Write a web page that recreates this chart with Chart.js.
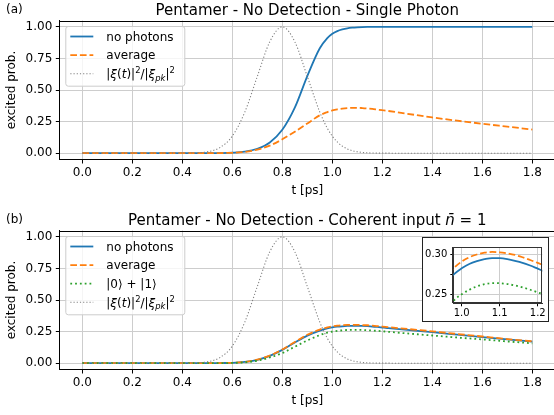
<!DOCTYPE html>
<html lang="en">
<head>
<meta charset="UTF-8">
<title>Pentamer - No Detection</title>
<script src="https://cdn.jsdelivr.net/npm/chart.js@4"></script>
<style>
  html, body { margin: 0; padding: 0; background: #fff; }
  #page { position: relative; width: 554px; height: 415px; overflow: hidden; background: #fff; }
  .panel { position: absolute; left: 0; width: 560px; height: 210px; }
  #panelA { top: 0; }
  #panelB { top: 210px; }
  #inset { position: absolute; left: 422px; top: 237px; width: 127px; height: 85px;
           box-sizing: border-box; border: 1px solid #222; background: #fff; }
  #inset canvas { position: absolute; left: 0; top: 0; }
</style>
</head>
<body>
<div id="page">
  <div class="panel" id="panelA"><canvas id="chartA" width="560" height="210"></canvas></div>
  <div class="panel" id="panelB"><canvas id="chartB" width="560" height="210"></canvas></div>
  <div id="inset"><canvas id="chartInset" width="125" height="83"></canvas></div>
</div>
<script>
// ---------------------------------------------------------------------------
// Data
// ---------------------------------------------------------------------------
const t = [0, 0.1, 0.2, 0.3, 0.4, 0.45, 0.5, 0.55, 0.6, 0.65, 0.7, 0.75, 0.8, 0.85, 0.9, 0.95,
           0.98, 1.0, 1.02, 1.04, 1.06, 1.08, 1.1, 1.12, 1.14, 1.16, 1.18, 1.2, 1.22,
           1.3, 1.4, 1.5, 1.6, 1.7, 1.8];

// normalised pulse |xi(t)|^2 / |xi_pk|^2 (same in both panels)
const pulse = [0, 0, 0, 0, 0.0003, 0.002, 0.011, 0.044, 0.135, 0.325, 0.607, 0.882, 1.0, 0.882, 0.607, 0.325,
               0.198, 0.135, 0.089, 0.056, 0.034, 0.020, 0.011, 0.006, 0.003, 0.0015, 0.0007, 0.0003, 0.0001,
               0, 0, 0, 0, 0, 0];

// (a) single photon
const noPhotonsA = [0, 0, 0, 0, 0, 0, 0, 0.001, 0.004, 0.012, 0.035, 0.085, 0.185, 0.36, 0.61, 0.83,
                    0.91, 0.945, 0.966, 0.979, 0.988, 0.993, 0.996, 0.998, 0.999, 0.9995, 1, 1, 1,
                    1, 1, 1, 1, 1, 1];
const averageA   = [0, 0, 0, 0, 0, 0, 0, 0.001, 0.003, 0.01, 0.028, 0.06, 0.11, 0.17, 0.235, 0.30,
                    0.325, 0.338, 0.347, 0.353, 0.357, 0.359, 0.359, 0.357, 0.354, 0.350, 0.345, 0.340, 0.335,
                    0.312, 0.283, 0.257, 0.233, 0.21, 0.187];

// (b) coherent input, n = 1
const noPhotonsB = [0, 0, 0, 0, 0, 0, 0, 0.001, 0.003, 0.01, 0.027, 0.058, 0.105, 0.163, 0.218, 0.258,
                    0.2755, 0.283, 0.2885, 0.292, 0.2945, 0.296, 0.2958, 0.2945, 0.2925, 0.29, 0.2865, 0.2825, 0.2785,
                    0.263, 0.245, 0.226, 0.207, 0.188, 0.17];
const averageB   = [0, 0, 0, 0, 0, 0, 0, 0.001, 0.003, 0.01, 0.028, 0.06, 0.108, 0.168, 0.225, 0.266,
                    0.2835, 0.2915, 0.297, 0.3005, 0.3028, 0.3037, 0.3033, 0.302, 0.3, 0.297, 0.2935, 0.2898, 0.286,
                    0.2708, 0.252, 0.231, 0.211, 0.191, 0.173];
const zeroOneB   = [0, 0, 0, 0, 0, 0, 0, 0.0005, 0.002, 0.007, 0.02, 0.045, 0.08, 0.13, 0.18, 0.222,
                    0.2424, 0.25, 0.2558, 0.26, 0.2628, 0.2642, 0.264, 0.263, 0.2612, 0.2588, 0.2558, 0.2525, 0.249,
                    0.2354, 0.219, 0.203, 0.188, 0.172, 0.157];

// ticks
const xTicks = [0.0, 0.2, 0.4, 0.6, 0.8, 1.0, 1.2, 1.4, 1.6, 1.8];
const yTicks = [0.0, 0.25, 0.5, 0.75, 1.0];
const insetXTicks = [1.0, 1.1, 1.2];
const insetYTicks = [0.25, 0.275, 0.30];
const insetYLabels = ['0.25', '', '0.30'];

// labels (rich text segments: it = italic, sup / sub)
const labelNoPhotons = [{ t: 'no photons' }];
const labelAverage = [{ t: 'average' }];
const labelZeroOne = [{ t: '|0\u27E9 + |1\u27E9' }];
const labelPulse = [{ t: '|' }, { t: '\u03BE', it: 1 }, { t: '(' }, { t: 't', it: 1 }, { t: ')|' }, { t: '2', sup: 1 },
                    { t: '/|' }, { t: '\u03BE', it: 1 }, { t: 'pk', it: 1, sub: 1 }, { t: '|' }, { t: '2', sup: 1 }];
const titleA = [{ t: 'Pentamer - No Detection - Single Photon' }];
const titleB = [{ t: 'Pentamer - No Detection - Coherent input ' }, { t: 'n\u0304', it: 1 }, { t: ' = 1' }];

// ---------------------------------------------------------------------------
// Style
// ---------------------------------------------------------------------------
const BLUE = '#1f77b4', ORANGE = '#ff7f0e', GREEN = '#2ca02c', GRAY = '#808080';
const FONT = '"DejaVu Sans", "Liberation Sans", sans-serif';
const GRID = '#cdcdcd';

Chart.defaults.font.family = FONT;
Chart.defaults.font.size = 12;
Chart.defaults.color = '#000';

const pts = ys => t.map((x, i) => ({ x, y: ys[i] }));
function lineDs(label, ys, color, width, dash, order) {
  return { label, data: pts(ys), borderColor: color, borderWidth: width, borderDash: dash,
           pointRadius: 0, fill: false, order, cubicInterpolationMode: 'monotone' };
}

function segFont(size, s) {
  const sz = (s.sub || s.sup) ? size * 0.7 : size;
  return (s.it ? 'italic ' : '') + sz + 'px ' + FONT;
}
function drawRich(ctx, segs, x, y, size, align) {
  let w = 0;
  segs.forEach(s => { ctx.font = segFont(size, s); w += ctx.measureText(s.t).width; });
  let cx = align === 'center' ? x - w / 2 : x;
  ctx.textAlign = 'left';
  ctx.textBaseline = 'alphabetic';
  segs.forEach(s => {
    ctx.font = segFont(size, s);
    const dy = s.sup ? -size * 0.42 : s.sub ? size * 0.22 : 0;
    ctx.fillText(s.t, cx, y + dy);
    cx += ctx.measureText(s.t).width;
  });
}

// top / right spines (left and bottom come from the axis borders)
const spines = {
  id: 'spines',
  afterDatasetsDraw(chart, args, opts) {
    const { ctx, chartArea: a } = chart;
    ctx.save();
    ctx.strokeStyle = opts.color || '#000';
    ctx.lineWidth = 1;
    ctx.beginPath();
    const l = Math.round(a.left) - 0.5, r = Math.round(a.right) - 0.5;
    const tp = Math.round(a.top) + 0.5, b = Math.round(a.bottom) - 0.5;
    ctx.moveTo(l, tp); ctx.lineTo(r, tp); ctx.lineTo(r, b);
    ctx.stroke();
    ctx.restore();
  }
};

const panelTitle = {
  id: 'panelTitle',
  afterDraw(chart, args, opts) {
    if (!opts.segs) return;
    const { ctx, chartArea: a } = chart;
    ctx.save();
    ctx.fillStyle = '#000';
    ctx.font = '12px ' + FONT;
    ctx.textAlign = 'left';
    ctx.textBaseline = 'alphabetic';
    ctx.fillText(opts.tag, 6, 13);
    drawRich(ctx, opts.segs, (a.left + a.right) / 2, 15, 15, 'center');
    ctx.restore();
  }
};

const boxLegend = {
  id: 'boxLegend',
  afterDraw(chart, args, opts) {
    if (!opts.items) return;
    const { ctx, chartArea: a } = chart;
    const x0 = a.left + 5.5, y0 = a.top + 5.5;
    const rowH = 18.6, w = 119;
    const h = 10.5 + rowH * (opts.items.length - 1) + 12;
    ctx.save();
    ctx.beginPath();
    ctx.roundRect(x0 + 0.5, y0 + 0.5, w, h, 2.5);
    ctx.fillStyle = 'rgba(255,255,255,0.8)';
    ctx.fill();
    ctx.strokeStyle = '#cccccc';
    ctx.lineWidth = 1;
    ctx.stroke();
    opts.items.forEach((it, i) => {
      const ds = chart.data.datasets[it.ds];
      const cy = y0 + 10.5 + i * rowH;
      ctx.beginPath();
      ctx.strokeStyle = ds.borderColor;
      ctx.lineWidth = ds.borderWidth;
      ctx.setLineDash(ds.borderDash || []);
      ctx.moveTo(x0 + 5, cy);
      ctx.lineTo(x0 + 28, cy);
      ctx.stroke();
      ctx.setLineDash([]);
      ctx.fillStyle = '#000';
      drawRich(ctx, it.segs, x0 + 41, cy + 4.3, 12, 'left');
    });
    ctx.restore();
  }
};

function mainChart(id, datasets, tag, title, legendItems) {
  return new Chart(document.getElementById(id), {
    type: 'line',
    data: { datasets },
    plugins: [spines, panelTitle, boxLegend],
    options: {
      responsive: false,
      animation: false,
      events: [],
      layout: { padding: { top: 20.5, right: 5.2, left: 0, bottom: 0 } },
      plugins: {
        legend: { display: false },
        tooltip: { enabled: false },
        spines: { color: '#000' },
        panelTitle: { tag, segs: title },
        boxLegend: { items: legendItems }
      },
      scales: {
        x: {
          type: 'linear', min: -0.09, max: 1.89,
          afterBuildTicks: s => { s.ticks = xTicks.map(v => ({ value: v })); },
          afterFit: s => { s.height = 50.5; },
          ticks: { callback: v => v.toFixed(1), padding: 2, maxRotation: 0, autoSkip: false },
          grid: { color: GRID, lineWidth: 1, tickLength: 4, tickColor: '#000' },
          border: { color: '#000', width: 1 },
          title: { display: true, text: 't [ps]', font: { size: 12 }, padding: { top: 0, bottom: 11.8 } }
        },
        y: {
          type: 'linear', min: -0.05, max: 1.05,
          afterBuildTicks: s => { s.ticks = yTicks.map(v => ({ value: v })); },
          afterFit: s => { s.width = 59.8; },
          ticks: { callback: v => v.toFixed(2), padding: 3.5, autoSkip: false },
          grid: { color: GRID, lineWidth: 1, tickLength: 4, tickColor: '#000' },
          border: { color: '#000', width: 1 },
          title: { display: true, text: 'excited prob.', font: { size: 12 }, padding: { top: 5, bottom: 0 } }
        }
      }
    }
  });
}

// (a)
mainChart('chartA', [
  lineDs('no photons', noPhotonsA, BLUE, 1.8, [], 4),
  lineDs('average', averageA, ORANGE, 1.8, [6.7, 2.9], 3),
  lineDs('pulse', pulse, GRAY, 1.1, [1.2, 2], 1)
], '(a)', titleA, [
  { ds: 0, segs: labelNoPhotons },
  { ds: 1, segs: labelAverage },
  { ds: 2, segs: labelPulse }
]);

// (b)
const datasetsB = () => [
  lineDs('no photons', noPhotonsB, BLUE, 1.8, [], 4),
  lineDs('average', averageB, ORANGE, 1.8, [6.7, 2.9], 3),
  lineDs('|0>+|1>', zeroOneB, GREEN, 1.8, [1.8, 3], 2),
  lineDs('pulse', pulse, GRAY, 1.1, [1.2, 2], 1)
];
mainChart('chartB', datasetsB(), '(b)', titleB, [
  { ds: 0, segs: labelNoPhotons },
  { ds: 1, segs: labelAverage },
  { ds: 2, segs: labelZeroOne },
  { ds: 3, segs: labelPulse }
]);

// inset of (b) around the maximum
const insetSpines = {
  id: 'insetSpines',
  afterDatasetsDraw(chart) {
    const { ctx, chartArea: a } = chart;
    ctx.save();
    ctx.strokeStyle = '#333';
    ctx.lineWidth = 1;
    ctx.strokeRect(Math.round(a.left) - 0.5, Math.round(a.top) + 0.5,
                   Math.round(a.right) - Math.round(a.left), Math.round(a.bottom) - Math.round(a.top) - 1);
    ctx.restore();
  }
};
new Chart(document.getElementById('chartInset'), {
  type: 'line',
  data: { datasets: datasetsB().slice(0, 3).map(d => Object.assign(d, { clip: 0 })) },
  plugins: [insetSpines],
  options: {
    responsive: false,
    animation: false,
    events: [],
    layout: { padding: { top: 2.7, right: 5.7, left: 0, bottom: 0 } },
    plugins: { legend: { display: false }, tooltip: { enabled: false } },
    scales: {
      x: {
        type: 'linear', min: 0.978, max: 1.212,
        afterBuildTicks: s => { s.ticks = insetXTicks.map(v => ({ value: v })); },
        afterFit: s => { s.height = 17.7; },
        ticks: { callback: v => v.toFixed(1), padding: 1, maxRotation: 0, autoSkip: false, font: { size: 10 } },
        grid: { color: GRID, lineWidth: 1, tickLength: 3, tickColor: '#000' },
        border: { color: '#333', width: 1 }
      },
      y: {
        type: 'linear', min: 0.2386, max: 0.31,
        afterBuildTicks: s => { s.ticks = insetYTicks.map(v => ({ value: v })); },
        afterFit: s => { s.width = 30.3; },
        ticks: { callback: (v, i) => insetYLabels[i], padding: 3, autoSkip: false, font: { size: 10 } },
        grid: { color: c => (insetYLabels[c.index] === '' ? 'rgba(0,0,0,0)' : GRID), lineWidth: 1,
                tickLength: 3, tickColor: '#000' },
        border: { color: '#333', width: 1 }
      }
    }
  }
});
</script>
</body>
</html>
